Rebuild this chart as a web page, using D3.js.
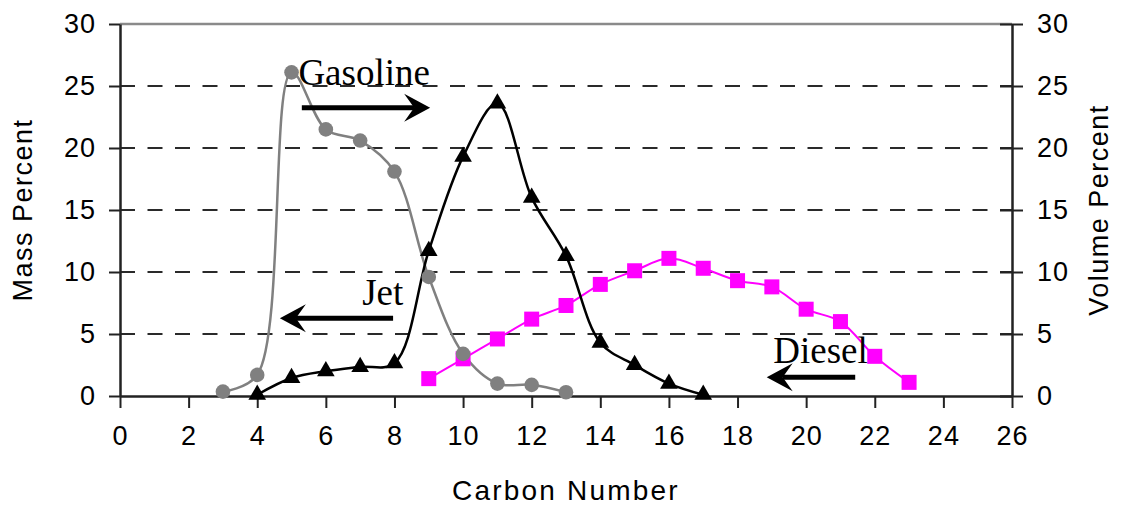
<!DOCTYPE html>
<html>
<head>
<meta charset="utf-8">
<script src="https://cdn.jsdelivr.net/npm/d3@7"></script>
<style>
  html, body { margin: 0; padding: 0; background: #fff; }
  svg { display: block; }
  .tick text { font-family: "Liberation Sans", Arial, sans-serif; }
</style>
</head>
<body>
<svg id="chart" width="1124" height="510"></svg>
<script>
// ---- data ----
const xTicks = [0, 2, 4, 6, 8, 10, 12, 14, 16, 18, 20, 22, 24, 26];
const yTicks = [0, 5, 10, 15, 20, 25, 30];

const gasolineX = [3, 4, 5, 6, 7, 8, 9, 10, 11, 12, 13];
const gasolineY = [0.35, 1.7, 26.1, 21.5, 20.6, 18.1, 9.6, 3.4, 1.0, 0.9, 0.3];

const jetX = [4, 5, 6, 7, 8, 9, 10, 11, 12, 13, 14, 15, 16, 17];
const jetY = [0.1, 1.45, 2.0, 2.35, 2.65, 11.7, 19.3, 23.6, 16.0, 11.3, 4.3, 2.5, 1.0, 0.1];

const dieselX = [9, 10, 11, 12, 13, 14, 15, 16, 17, 18, 19, 20, 21, 22, 23];
const dieselY = [1.4, 3.0, 4.6, 6.2, 7.3, 9.0, 10.1, 11.1, 10.3, 9.3, 8.8, 7.0, 6.0, 3.2, 1.1];

const labelTexts = ["Gasoline", "Jet", "Diesel"];
const labelX = [5.2, 7.06, 19.04];
const labelY = [25.1, 7.3, 2.65];
const arrowFrom = [5.3, 7.96, 21.43];
const arrowTo = [9.04, 4.66, 18.85];
const arrowY = [23.25, 6.27, 1.51];

const xTitle = "Carbon Number";
const yLeftTitle = "Mass Percent";
const yRightTitle = "Volume Percent";

// ---- layout ----
const svg = d3.select("#chart");
const L = 120, R = 1012, T = 24, B = 396;
const x = d3.scaleLinear().domain([0, 26]).range([L, R]);
const y = d3.scaleLinear().domain([0, 30]).range([B, T]);
const sansFont = '"Liberation Sans", Arial, sans-serif';
const serifFont = '"Liberation Serif", "Times New Roman", serif';

// gridlines
svg.append("g")
  .selectAll("line")
  .data(yTicks.filter(d => d > 0 && d < 30))
  .join("line")
  .attr("x1", L).attr("x2", R)
  .attr("y1", d => y(d)).attr("y2", d => y(d))
  .attr("stroke", "#2a2a2a")
  .attr("stroke-width", 2)
  .attr("stroke-dasharray", "15,12.5");

// top border
svg.append("line")
  .attr("x1", L).attr("x2", R).attr("y1", T).attr("y2", T)
  .attr("stroke", "#8a8a8a").attr("stroke-width", 2.5);

// axes
function styleAxis(g) {
  g.select(".domain").attr("stroke", "#222").attr("stroke-width", 2.5);
  g.selectAll(".tick line").attr("stroke", "#222").attr("stroke-width", 2);
  g.selectAll(".tick text")
    .attr("fill", "#000")
    .style("font-size", "27px")
    .style("letter-spacing", "1px");
}

svg.append("g")
  .attr("transform", `translate(0,${B})`)
  .call(d3.axisBottom(x).tickValues(xTicks).tickSize(12).tickSizeOuter(0).tickPadding(18))
  .call(styleAxis);

svg.append("g")
  .attr("transform", `translate(${L},0)`)
  .call(d3.axisLeft(y).tickValues(yTicks).tickSize(11).tickSizeOuter(0).tickPadding(13))
  .call(styleAxis);

const gr = svg.append("g")
  .attr("transform", `translate(${R},0)`)
  .call(d3.axisRight(y).tickValues(yTicks).tickSize(11).tickSizeOuter(0).tickPadding(14))
  .call(styleAxis);
// right ticks cross the axis
gr.selectAll(".tick line").attr("x1", -12);

// axis titles
svg.append("text")
  .attr("x", (L + R) / 2).attr("y", 500)
  .attr("text-anchor", "middle")
  .style("font-family", sansFont).style("font-size", "28px")
  .style("letter-spacing", "2.2px")
  .attr("fill", "#000")
  .text(xTitle);

svg.append("text")
  .attr("transform", `translate(32,${(T + B) / 2}) rotate(-90)`)
  .attr("text-anchor", "middle")
  .style("font-family", sansFont).style("font-size", "27px")
  .style("letter-spacing", "1.5px")
  .attr("fill", "#000")
  .text(yLeftTitle);

svg.append("text")
  .attr("transform", `translate(1108,${(T + B) / 2}) rotate(-90)`)
  .attr("text-anchor", "middle")
  .style("font-family", sansFont).style("font-size", "27px")
  .style("letter-spacing", "1.5px")
  .attr("fill", "#000")
  .text(yRightTitle);

// series
const line = d3.line()
  .x(d => x(d[0])).y(d => y(d[1]))
  .curve(d3.curveCatmullRom.alpha(0.5));

const gas = gasolineX.map((v, i) => [v, gasolineY[i]]);
const jet = jetX.map((v, i) => [v, jetY[i]]);
const dsl = dieselX.map((v, i) => [v, dieselY[i]]);

svg.append("path").datum(dsl).attr("d", line)
  .attr("fill", "none").attr("stroke", "#ff00ff").attr("stroke-width", 2);
svg.append("path").datum(gas).attr("d", line)
  .attr("fill", "none").attr("stroke", "#808080").attr("stroke-width", 2.5);
svg.append("path").datum(jet).attr("d", line)
  .attr("fill", "none").attr("stroke", "#000").attr("stroke-width", 2.5);

// markers
svg.append("g").selectAll("rect").data(dsl).join("rect")
  .attr("x", d => x(d[0]) - 7.5).attr("y", d => y(d[1]) - 7.5)
  .attr("width", 15).attr("height", 15)
  .attr("fill", "#ff00ff");

svg.append("g").selectAll("circle").data(gas).join("circle")
  .attr("cx", d => x(d[0])).attr("cy", d => y(d[1]))
  .attr("r", 7.3).attr("fill", "#808080");

const tri = d3.symbol().type(d3.symbolTriangle).size(135);
svg.append("g").selectAll("path").data(jet).join("path")
  .attr("transform", d => `translate(${x(d[0])},${y(d[1])})`)
  .attr("d", tri)
  .attr("fill", "#000");

// annotations
svg.append("g").selectAll("text").data(labelTexts).join("text")
  .attr("x", (d, i) => x(labelX[i]))
  .attr("y", (d, i) => y(labelY[i]))
  .style("font-family", serifFont).style("font-size", "37px")
  .attr("fill", "#000")
  .text(d => d);

const arrows = arrowFrom.map((f, i) => ({ x1: x(f), x2: x(arrowTo[i]), yy: y(arrowY[i]) }));
const ag = svg.append("g");
arrows.forEach(a => {
  const dir = a.x2 > a.x1 ? 1 : -1;
  const headLen = 26, notch = 16, half = 14;
  ag.append("line")
    .attr("x1", a.x1).attr("x2", a.x2 - dir * notch)
    .attr("y1", a.yy).attr("y2", a.yy)
    .attr("stroke", "#000").attr("stroke-width", 5);
  ag.append("path")
    .attr("d", `M${a.x2},${a.yy} L${a.x2 - dir * headLen},${a.yy - half} L${a.x2 - dir * notch},${a.yy} L${a.x2 - dir * headLen},${a.yy + half} Z`)
    .attr("fill", "#000");
});
</script>
</body>
</html>
